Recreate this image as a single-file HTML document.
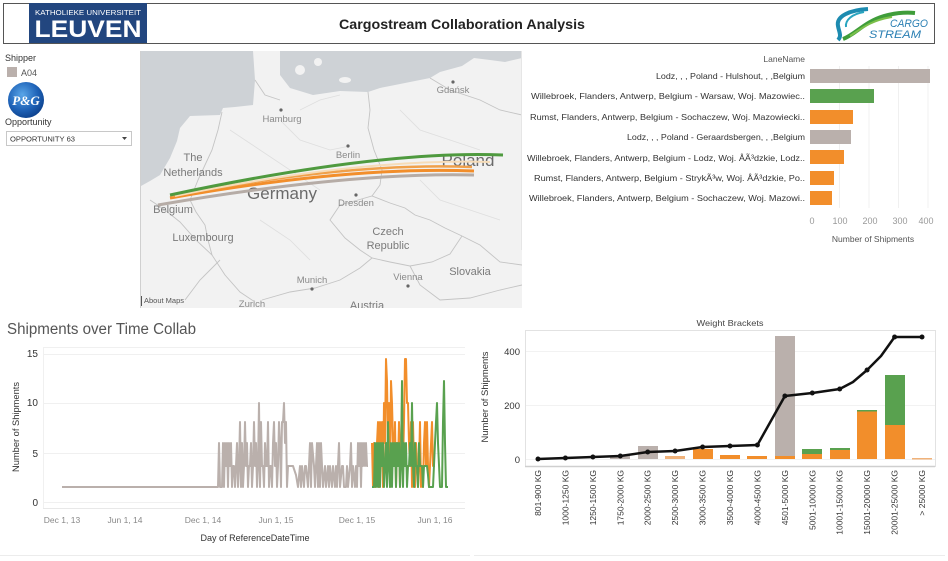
<!DOCTYPE html>
<html><head><meta charset="utf-8">
<style>
html,body{margin:0;padding:0;background:#fff;}
svg{display:block;font-family:"Liberation Sans",sans-serif;}
</style></head>
<body>
<svg width="948" height="561" viewBox="0 0 948 561" xmlns="http://www.w3.org/2000/svg">
<defs>
<radialGradient id="pg" cx="40%" cy="35%" r="70%">
<stop offset="0" stop-color="#5aa6e8"/><stop offset="0.6" stop-color="#1f63b8"/><stop offset="1" stop-color="#0c3f8a"/>
</radialGradient>
<clipPath id="mapclip"><rect x="141" y="51" width="381" height="257"/></clipPath>
</defs>
<rect width="948" height="561" fill="#fff"/>

<!-- HEADER -->
<rect x="3.5" y="3.5" width="931" height="40" fill="#fff" stroke="#555" stroke-width="1"/>
<rect x="29" y="3" width="118" height="40" fill="#22467f"/>
<text x="88" y="15" font-size="7" fill="#fff" text-anchor="middle" textLength="106" lengthAdjust="spacingAndGlyphs">KATHOLIEKE UNIVERSITEIT</text>
<text x="88" y="37" font-size="24" font-weight="bold" fill="#fff" text-anchor="middle" textLength="107" lengthAdjust="spacingAndGlyphs">LEUVEN</text>
<text x="462" y="29" font-size="14" font-weight="bold" fill="#222" text-anchor="middle" textLength="246" lengthAdjust="spacingAndGlyphs">Cargostream Collaboration Analysis</text>
<!-- Cargostream logo -->
<path d="M868,9 C850,10 836,16 838,26 C839,32 842,36 838,40" fill="none" stroke="#1d8bb0" stroke-width="4"/>
<path d="M864,12 C852,14 845,20 846,27" fill="none" stroke="#2aa5c0" stroke-width="2"/>
<path d="M843,39 C856,34 864,22 884,16 C895,13 905,12 915,13" fill="none" stroke="#3f9d3a" stroke-width="4"/>
<path d="M850,36 C862,28 872,20 892,17" fill="none" stroke="#7cc04a" stroke-width="2"/>
<text x="909" y="27" font-size="11" font-style="italic" fill="#2a7fb3" text-anchor="middle" textLength="38" lengthAdjust="spacingAndGlyphs">CARGO</text>
<text x="895" y="38" font-size="11" font-style="italic" fill="#2a7fb3" text-anchor="middle" textLength="52" lengthAdjust="spacingAndGlyphs">STREAM</text>

<!-- LEFT PANEL -->
<text x="5" y="61" font-size="9" fill="#333">Shipper</text>
<rect x="7" y="67" width="10" height="10" fill="#bab0ac"/>
<text x="21" y="76" font-size="9" fill="#555">A04</text>
<circle cx="26" cy="100" r="18" fill="url(#pg)"/>
<text x="26" y="105" font-size="13" font-weight="bold" font-style="italic" font-family="Liberation Serif,serif" fill="#fff" text-anchor="middle">P&amp;G</text>
<text x="5" y="125" font-size="9" fill="#333">Opportunity</text>
<rect x="6.5" y="131.5" width="125" height="14" fill="#fff" stroke="#c8c8c8"/>
<text x="10" y="141.5" font-size="7.5" fill="#333" textLength="65" lengthAdjust="spacingAndGlyphs">OPPORTUNITY 63</text>
<path d="M122,137 L127,137 L124.5,140 Z" fill="#444"/>

<!-- MAP -->
<g clip-path="url(#mapclip)">
<rect x="141" y="51" width="381" height="257" fill="#f2f2f2"/>
<path d="M141,51 L253,51 L255,80 L253,105 L235,107 L223,108 L220,115 L190,116 L180,128 L177,141 L170,158 L160,175 L150,181 L141,186 Z" fill="#ced2d6"/>
<path d="M280,51 L474,51 L474,58 L462,66 L440,72 L430,78 L410,82 L395,85 L380,88 L368,92 L340,91 L313,95 L290,88 L280,75 Z" fill="#ced2d6"/>
<path d="M474,51 L522,51 L522,58 L505,62 L490,60 L474,58 Z" fill="#ced2d6"/>
<g fill="#f2f2f2"><circle cx="300" cy="70" r="5"/><circle cx="318" cy="62" r="4"/><ellipse cx="345" cy="80" rx="6" ry="3"/></g>
<g fill="none" stroke="#c4c4c4" stroke-width="0.9">
<path d="M222,112 L218,130 L212,150 L205,165 L198,180 L190,200"/>
<path d="M190,200 L196,212 L205,225 L208,240 L212,255"/>
<path d="M150,200 L165,210 L180,222 L196,240 L212,255 L225,275 L240,292 L255,302"/>
<path d="M368,92 L370,110 L368,128 L374,150 L382,170 L380,185 L372,196"/>
<path d="M340,205 L358,200 L372,196 L390,203 L405,208 L415,215 L430,220 L445,228 L462,236"/>
<path d="M340,205 L330,220 L345,238 L360,250 L372,258 L390,262 L410,266 L432,262 L450,254 L462,236"/>
<path d="M262,300 L290,292 L315,288 L340,280 L360,268 L372,258"/>
<path d="M410,266 L420,285 L440,300 L470,298 L500,290 L522,285"/>
<path d="M462,236 L480,245 L500,262 L522,265"/>
<path d="M255,80 L265,95 L280,100"/>
<path d="M430,78 L450,90 L480,100 L500,110 L522,115"/>
<path d="M220,260 L200,280 L185,300"/>
</g>
<g fill="none" stroke="#dedede" stroke-width="0.8">
<path d="M230,130 L260,150 L290,170 L320,190"/>
<path d="M280,120 L300,140 L330,150 L350,146"/>
<path d="M400,110 L420,130 L450,140 L480,150"/>
<path d="M260,220 L290,240 L310,260"/>
<path d="M420,180 L440,200 L470,210 L500,220"/>
<path d="M300,110 L320,100 L340,95"/>
</g>
<g font-size="9.5" fill="#8a8a8a">
<circle cx="453" cy="82" r="1.6" fill="#666"/><text x="453" y="93" text-anchor="middle">Gdańsk</text>
<circle cx="281" cy="110" r="1.6" fill="#666"/><text x="282" y="122" text-anchor="middle">Hamburg</text>
<circle cx="348" cy="146" r="1.6" fill="#666"/><text x="348" y="158" text-anchor="middle">Berlin</text>
<circle cx="356" cy="195" r="1.6" fill="#666"/><text x="356" y="206" text-anchor="middle">Dresden</text>
<circle cx="312" cy="289" r="1.6" fill="#666"/><text x="312" y="283" text-anchor="middle">Munich</text>
<circle cx="408" cy="286" r="1.6" fill="#666"/><text x="408" y="280" text-anchor="middle">Vienna</text>
<text x="252" y="307" text-anchor="middle">Zurich</text>
</g>
<g font-size="11" fill="#7a7a7a" text-anchor="middle">
<text x="193" y="161">The</text>
<text x="193" y="176">Netherlands</text>
<text x="173" y="213">Belgium</text>
<text x="203" y="241">Luxembourg</text>
<text x="388" y="235">Czech</text>
<text x="388" y="249">Republic</text>
<text x="470" y="275">Slovakia</text>
<text x="367" y="309">Austria</text>
</g>
<text x="282" y="199" font-size="17" fill="#6a6a6a" text-anchor="middle">Germany</text>
<text x="468" y="166" font-size="17" fill="#6a6a6a" text-anchor="middle">Poland</text>
<path d="M158,205 Q350,172 474,175" fill="none" stroke="#b6aca6" stroke-width="3"/>
<path d="M170,198 Q350,166 474,171" fill="none" stroke="#f28e2b" stroke-width="3"/>
<path d="M172,196 Q350,162 472,167" fill="none" stroke="#f0a04a" stroke-width="2.5"/>
<path d="M175,196 Q360,158 490,162" fill="none" stroke="#f6dcb8" stroke-width="2"/>
<path d="M170,195 Q380,150 503,155" fill="none" stroke="#4f9a3f" stroke-width="3"/>
<text x="144" y="303" font-size="7.5" fill="#555">About Maps</text>
<line x1="141.5" y1="296" x2="141.5" y2="306" stroke="#555"/>
</g>
<line x1="140.5" y1="51" x2="140.5" y2="308" stroke="#d0d0d0"/>
<line x1="521.5" y1="51" x2="521.5" y2="250" stroke="#e6e6e6"/>

<!-- LANE BAR CHART -->
<text x="805" y="62" font-size="8.5" fill="#555" text-anchor="end">LaneName</text>
<g stroke="#f0f0f0" stroke-width="1">
<line x1="839.5" y1="66" x2="839.5" y2="208"/><line x1="869" y1="66" x2="869" y2="208"/><line x1="898.5" y1="66" x2="898.5" y2="208"/><line x1="928" y1="66" x2="928" y2="208"/>
</g>
<rect x="810" y="69" width="120" height="14" fill="#bab0ac"/>
<rect x="810" y="89" width="64" height="14" fill="#59a14f"/>
<rect x="810" y="110" width="43" height="14" fill="#f28e2b"/>
<rect x="810" y="130" width="41" height="14" fill="#bab0ac"/>
<rect x="810" y="150" width="34" height="14" fill="#f28e2b"/>
<rect x="810" y="171" width="24" height="14" fill="#f28e2b"/>
<rect x="810" y="191" width="22" height="14" fill="#f28e2b"/>
<g font-size="8.5" fill="#333" text-anchor="end">
<text x="805" y="79" textLength="149" lengthAdjust="spacingAndGlyphs">Lodz, , , Poland - Hulshout, , ,Belgium</text>
<text x="805" y="99" textLength="274" lengthAdjust="spacingAndGlyphs">Willebroek, Flanders, Antwerp, Belgium - Warsaw, Woj. Mazowiec..</text>
<text x="805" y="120" textLength="275" lengthAdjust="spacingAndGlyphs">Rumst, Flanders, Antwerp, Belgium - Sochaczew, Woj. Mazowiecki..</text>
<text x="805" y="140" textLength="178" lengthAdjust="spacingAndGlyphs">Lodz, , , Poland - Geraardsbergen, , ,Belgium</text>
<text x="805" y="161" textLength="278" lengthAdjust="spacingAndGlyphs">Willebroek, Flanders, Antwerp, Belgium - Lodz, Woj. ÅÃ³dzkie, Lodz..</text>
<text x="805" y="181" textLength="271" lengthAdjust="spacingAndGlyphs">Rumst, Flanders, Antwerp, Belgium - StrykÃ³w, Woj. ÅÃ³dzkie, Po..</text>
<text x="805" y="201" textLength="276" lengthAdjust="spacingAndGlyphs">Willebroek, Flanders, Antwerp, Belgium - Sochaczew, Woj. Mazowi..</text>
</g>
<g font-size="9" fill="#999" text-anchor="middle">
<text x="812" y="224">0</text><text x="840" y="224">100</text><text x="870" y="224">200</text><text x="900" y="224">300</text><text x="926" y="224">400</text>
</g>
<text x="873" y="242" font-size="8.5" fill="#555" text-anchor="middle">Number of Shipments</text>

<!-- BOTTOM LEFT: SHIPMENTS OVER TIME -->
<text x="7" y="334" font-size="15.5" fill="#555" textLength="189" lengthAdjust="spacingAndGlyphs">Shipments over Time Collab</text>
<g stroke="#f0f0f0" stroke-width="1">
<line x1="43" y1="347.5" x2="465" y2="347.5"/>
<line x1="43" y1="354.5" x2="465" y2="354.5"/>
<line x1="43" y1="403.5" x2="465" y2="403.5"/>
<line x1="43" y1="453.5" x2="465" y2="453.5"/>
<line x1="43" y1="502.5" x2="465" y2="502.5"/>
<line x1="43.5" y1="347" x2="43.5" y2="508"/>
</g>
<line x1="43" y1="508.5" x2="465" y2="508.5" stroke="#e8e8e8"/>
<g font-size="10" fill="#333" text-anchor="end">
<text x="38" y="357">15</text><text x="38" y="406">10</text><text x="38" y="457">5</text><text x="38" y="506">0</text>
</g>
<text transform="translate(19,427) rotate(-90)" font-size="9" fill="#333" text-anchor="middle" textLength="90" lengthAdjust="spacingAndGlyphs">Number of Shipments</text>
<g font-size="8.5" fill="#888" text-anchor="middle">
<text x="62" y="523">Dec 1, 13</text><text x="125" y="523">Jun 1, 14</text><text x="203" y="523">Dec 1, 14</text><text x="276" y="523">Jun 1, 15</text><text x="357" y="523">Dec 1, 15</text><text x="435" y="523">Jun 1, 16</text>
</g>
<text x="255" y="541" font-size="9" fill="#333" text-anchor="middle" textLength="109" lengthAdjust="spacingAndGlyphs">Day of ReferenceDateTime</text>
<polyline fill="none" stroke="#bab0ac" stroke-width="2" stroke-linejoin="round" points="62,487 218,487 219,443 220,487 222,487 223,443 224,487 225,443 226,466 227,443 228,487 229,443 230,466 231,443 232,487 233,466 234,466 235,487 236,466 237,443 238,487 239,466 240,422 241,487 242,443 243,487 244,466 245,422 246,466 247,443 248,487 249,466 250,466 251,443 252,487 253,466 254,422 255,466 256,443 257,487 258,466 259,403 260,487 261,422 262,466 263,466 264,487 265,443 266,466 267,466 268,422 269,487 270,466 271,466 272,487 273,443 274,422 275,466 276,443 277,487 278,466 279,422 280,443 281,487 282,422 283,422 284,403 285,443 286,422 287,487 288,466 289,466 291,466 293,466 296,475 298,487 300,466 301,487 302,466 304,487 305,466 306,466 308,487 310,443 311,487 312,443 314,466 315,487 316,466 317,443 318,487 319,443 320,487 321,443 322,466 323,487 325,466 326,487 328,466 329,487 330,466 332,487 333,466 335,487 336,466 337,487 339,443 340,487 342,466 343,466 344,487 346,487 347,466 348,487 350,466 351,443 352,487 353,466 355,487 356,466 357,487 358,443 359,466 360,443 361,487 362,443 363,466 364,443 365,466 366,443 367,466 368,466"/>
<polyline fill="none" stroke="#f28e2b" stroke-width="2" stroke-linejoin="round" points="372,443 373,487 374,443 375,487 376,466 377,443 378,422 379,487 380,422 381,443 382,422 383,487 384,403 385,443 386,359 387,381 388,443 389,403 390,487 391,381 392,403 393,443 394,466 395,422 396,487 397,443 398,466 399,422 400,487 401,443 402,403 403,466 404,422 405,359 406,359 407,403 408,403 409,443 410,466 411,422 412,487 413,422 414,466 415,487 416,443 417,466 418,487 419,466 420,422 421,487 422,466 423,487 424,443 425,422 426,466 427,422 428,466 429,487 430,466 432,422 433,466 435,466"/>
<polyline fill="none" stroke="#59a14f" stroke-width="2" stroke-linejoin="round" points="372,487 374,487 375,443 376,487 377,443 378,487 379,443 380,487 381,443 382,466 383,443 384,487 385,466 386,443 387,487 388,422 389,466 390,487 391,443 392,487 393,443 394,466 395,443 396,487 397,443 398,466 399,443 400,487 401,466 402,381 403,487 404,443 405,466 406,443 407,487 408,466 409,466 410,443 411,466 412,403 413,466 414,487 415,443 416,466 417,466 418,487 419,443 420,466 421,466 422,466 423,487 424,466 425,466 426,466 427,466 428,475 429,487 431,487 433,487 435,443 436,422 437,403 438,443 440,487 442,487 443,422 444,381 445,443 446,487 448,487"/>
<line x1="0" y1="555.5" x2="470" y2="555.5" stroke="#ececec"/>

<!-- BOTTOM RIGHT: WEIGHT BRACKETS -->
<text x="730" y="326" font-size="8.5" fill="#444" text-anchor="middle" textLength="67" lengthAdjust="spacingAndGlyphs">Weight Brackets</text>
<rect x="525.5" y="330.5" width="410" height="136" fill="none" stroke="#e2e2e2"/>
<g stroke="#f2f2f2"><line x1="526" y1="351.5" x2="935" y2="351.5"/><line x1="526" y1="405.5" x2="935" y2="405.5"/><line x1="526" y1="459.5" x2="935" y2="459.5"/></g>
<line x1="525" y1="466.5" x2="935" y2="466.5" stroke="#cfcfcf" stroke-width="1.5"/>
<g font-size="9.5" fill="#333" text-anchor="end">
<text x="520" y="355">400</text><text x="520" y="409">200</text><text x="520" y="463">0</text>
</g>
<text transform="translate(488,397) rotate(-90)" font-size="9" fill="#333" text-anchor="middle" textLength="91" lengthAdjust="spacingAndGlyphs">Number of Shipments</text>
<!-- bars -->
<rect x="610" y="456" width="20" height="3" fill="#bab0ac"/>
<rect x="638" y="446" width="20" height="13" fill="#bab0ac"/>
<rect x="665" y="456" width="20" height="3" fill="#f0b27a"/>
<rect x="693" y="449" width="20" height="10" fill="#f28e2b"/>
<rect x="720" y="455" width="20" height="4" fill="#f28e2b"/>
<rect x="747" y="456" width="20" height="3" fill="#f28e2b"/>
<rect x="775" y="336" width="20" height="120" fill="#bab0ac"/>
<rect x="775" y="456" width="20" height="3" fill="#f28e2b"/>
<rect x="802" y="449" width="20" height="5" fill="#59a14f"/>
<rect x="802" y="454" width="20" height="5" fill="#f28e2b"/>
<rect x="830" y="448" width="20" height="2" fill="#59a14f"/>
<rect x="830" y="450" width="20" height="9" fill="#f28e2b"/>
<rect x="857" y="410" width="20" height="1.5" fill="#59a14f"/>
<rect x="857" y="411.5" width="20" height="47.5" fill="#f28e2b"/>
<rect x="885" y="375" width="20" height="50" fill="#59a14f"/>
<rect x="885" y="425" width="20" height="34" fill="#f28e2b"/>
<rect x="912" y="458" width="20" height="1.5" fill="#f0b27a"/>
<!-- line -->
<polyline fill="none" stroke="#111" stroke-width="2.5" stroke-linejoin="round" points="538,459 565.4,458 592.9,457 620.3,456 647.7,452 675.1,451 702.6,447 730,446 757.4,445 784.9,396 812.3,393 839.7,389 853,382 867.1,370 881,356 894.6,337 922,337"/>
<g fill="#111">
<circle cx="538" cy="459" r="2.5"/><circle cx="565.4" cy="458" r="2.5"/><circle cx="592.9" cy="457" r="2.5"/><circle cx="620.3" cy="456" r="2.5"/><circle cx="647.7" cy="452" r="2.5"/><circle cx="675.1" cy="451" r="2.5"/><circle cx="702.6" cy="447" r="2.5"/><circle cx="730" cy="446" r="2.5"/><circle cx="757.4" cy="445" r="2.5"/><circle cx="784.9" cy="396" r="2.5"/><circle cx="812.3" cy="393" r="2.5"/><circle cx="839.7" cy="389" r="2.5"/><circle cx="867.1" cy="370" r="2.5"/><circle cx="894.6" cy="337" r="2.5"/><circle cx="922" cy="337" r="2.5"/>
</g>
<g font-size="8.5" fill="#333" text-anchor="end">
<text transform="translate(541,470) rotate(-90)">801-900 KG</text>
<text transform="translate(568.4,470) rotate(-90)">1000-1250 KG</text>
<text transform="translate(595.9,470) rotate(-90)">1250-1500 KG</text>
<text transform="translate(623.3,470) rotate(-90)">1750-2000 KG</text>
<text transform="translate(650.7,470) rotate(-90)">2000-2500 KG</text>
<text transform="translate(678.1,470) rotate(-90)">2500-3000 KG</text>
<text transform="translate(705.6,470) rotate(-90)">3000-3500 KG</text>
<text transform="translate(733,470) rotate(-90)">3500-4000 KG</text>
<text transform="translate(760.4,470) rotate(-90)">4000-4500 KG</text>
<text transform="translate(787.9,470) rotate(-90)">4501-5000 KG</text>
<text transform="translate(815.3,470) rotate(-90)">5001-10000 KG</text>
<text transform="translate(842.7,470) rotate(-90)">10001-15000 KG</text>
<text transform="translate(870.1,470) rotate(-90)">15001-20000 KG</text>
<text transform="translate(897.6,470) rotate(-90)">20001-25000 KG</text>
<text transform="translate(925,470) rotate(-90)">&gt; 25000 KG</text>
</g>
<line x1="474" y1="555.5" x2="945" y2="555.5" stroke="#ececec"/>
</svg>
</body></html>
